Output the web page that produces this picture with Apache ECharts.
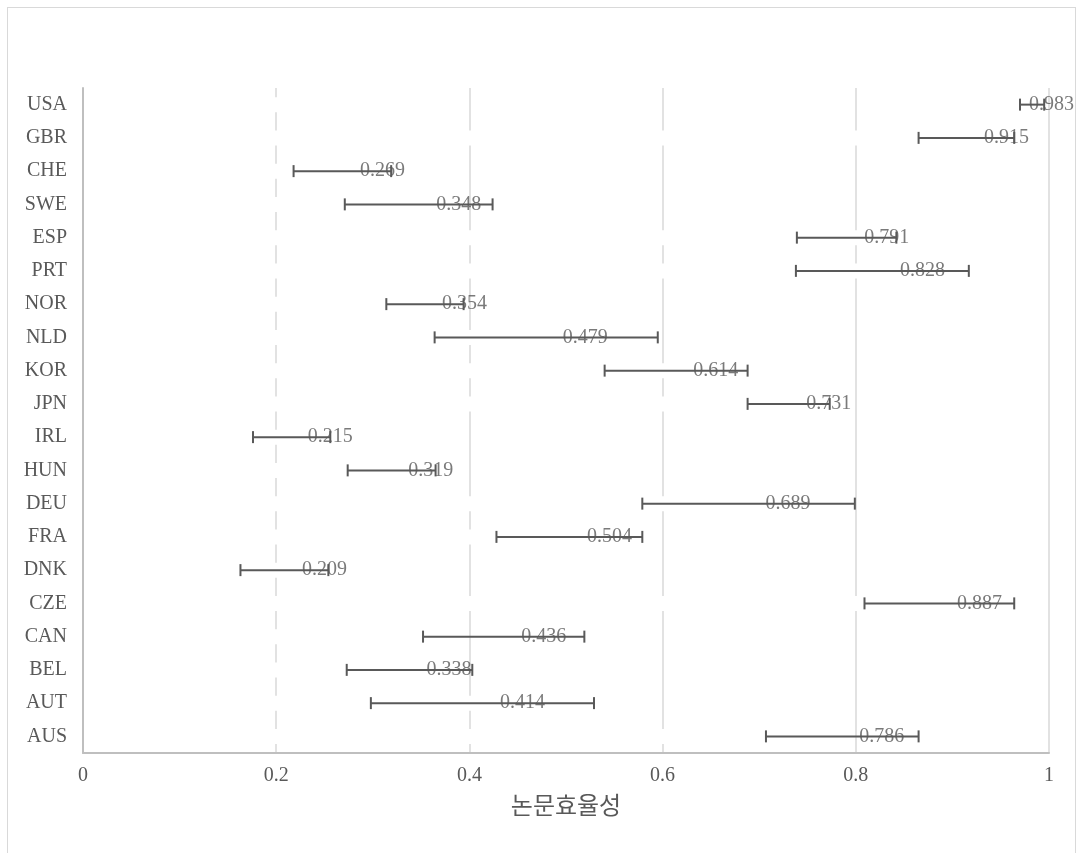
<!DOCTYPE html>
<html>
<head>
<meta charset="utf-8">
<script src="https://cdn.jsdelivr.net/npm/echarts@6/dist/echarts.min.js"></script>
<style>
  html, body { margin: 0; padding: 0; background: #fff; }
  #chart { width: 1081px; height: 853px; }
  #frame { position: absolute; left: 7px; top: 7px; width: 1067px; height: 870px; border: 1px solid #d9d9d9; pointer-events: none; }
</style>
</head>
<body>
<div id="frame"></div>
<div id="chart"></div>
<script>
// bottom -> top (category axis order)
const countries = ['AUS', 'AUT', 'BEL', 'CAN', 'CZE', 'DNK', 'FRA', 'DEU', 'HUN', 'IRL', 'JPN', 'KOR', 'NLD', 'NOR', 'PRT', 'ESP', 'SWE', 'CHE', 'GBR', 'USA']
const efficiency = [0.786, 0.414, 0.338, 0.436, 0.887, 0.209, 0.504, 0.689, 0.319, 0.215, 0.731, 0.614, 0.479, 0.354, 0.828, 0.791, 0.348, 0.269, 0.915, 0.983]
const lowerCI = [0.707, 0.298, 0.273, 0.352, 0.809, 0.163, 0.428, 0.579, 0.274, 0.176, 0.688, 0.540, 0.364, 0.314, 0.738, 0.739, 0.271, 0.218, 0.865, 0.970]
const upperCI = [0.865, 0.529, 0.403, 0.519, 0.964, 0.254, 0.579, 0.799, 0.365, 0.256, 0.773, 0.688, 0.595, 0.394, 0.917, 0.842, 0.424, 0.319, 0.964, 0.995]
// hidden (white) bars that break the gridlines
const hiddenBar = [0.7, 0.5, 0.3, 0.3, 0.9, 0.3, 0.5, 0.7, 0.3, 0.3, 0.7, 0.7, 0.5, 0.3, 0.9, 0.9, 0.3, 0.3, 0.9, 0.3]
const xTicks = [0, 0.2, 0.4, 0.6, 0.8, 1]

const grey = '#595959'
const serif = '"Liberation Serif", "DejaVu Serif", serif'

var myChart = echarts.init(document.getElementById('chart'))

let errData = []
let labelData = []
countries.forEach((c, i) => {
  errData.push([i, lowerCI[i], upperCI[i]])
  labelData.push([efficiency[i], i])
})

myChart.setOption({
  animation: false,
  grid: { left: 83, right: 32, top: 88, bottom: 100 },
  xAxis: {
    type: 'value',
    min: xTicks[0],
    max: xTicks[xTicks.length - 1],
    interval: 0.2,
    name: '논문효율성',
    nameLocation: 'middle',
    nameGap: 40,
    nameTextStyle: { fontFamily: '"Noto Sans CJK KR", sans-serif', fontSize: 24, color: grey },
    axisLine: { show: true, lineStyle: { color: '#bfbfbf', width: 2 } },
    axisTick: { show: false },
    axisLabel: {
      margin: 13,
      fontFamily: serif,
      fontSize: 20,
      color: grey,
      formatter: function (v) { return String(+v.toFixed(1)) }
    },
    splitLine: { show: true, lineStyle: { color: '#d9d9d9', width: 1.5 } }
  },
  yAxis: {
    type: 'category',
    data: countries,
    z: 5,
    axisLine: { show: true, lineStyle: { color: '#bfbfbf', width: 2 } },
    axisTick: { show: false },
    axisLabel: { margin: 16, fontFamily: serif, fontSize: 20, color: grey },
    splitLine: { show: false }
  },
  series: [
    {
      type: 'bar',
      data: hiddenBar,
      barWidth: 15,
      silent: true,
      z: 1,
      itemStyle: { color: '#ffffff' }
    },
    {
      type: 'custom',
      z: 3,
      silent: true,
      renderItem: function (params, api) {
        var cat = api.value(0)
        var start = api.coord([api.value(1), cat])
        var end = api.coord([api.value(2), cat])
        var h = 6
        var st = { stroke: grey, lineWidth: 2 }
        return {
          type: 'group',
          children: [
            { type: 'line', shape: { x1: start[0], y1: start[1], x2: end[0], y2: end[1] }, style: st },
            { type: 'line', shape: { x1: start[0], y1: start[1] - h, x2: start[0], y2: start[1] + h }, style: st },
            { type: 'line', shape: { x1: end[0], y1: end[1] - h, x2: end[0], y2: end[1] + h }, style: st }
          ]
        }
      },
      encode: { x: [1, 2], y: 0 },
      data: errData
    },
    {
      type: 'scatter',
      z: 4,
      silent: true,
      symbolSize: 0.1,
      itemStyle: { color: 'rgba(0,0,0,0)' },
      label: {
        show: true,
        position: 'right',
        distance: 17,
        fontFamily: serif,
        fontSize: 20,
        color: grey,
        formatter: function (p) { return p.value[0].toFixed(3) }
      },
      labelLayout: function (params) {
        var r = params.labelRect
        var lim = myChart.getWidth() - 7
        if (r.x + r.width > lim) {
          return { dx: lim - (r.x + r.width) }
        }
        return {}
      },
      data: labelData
    }
  ]
})
</script>
</body>
</html>
